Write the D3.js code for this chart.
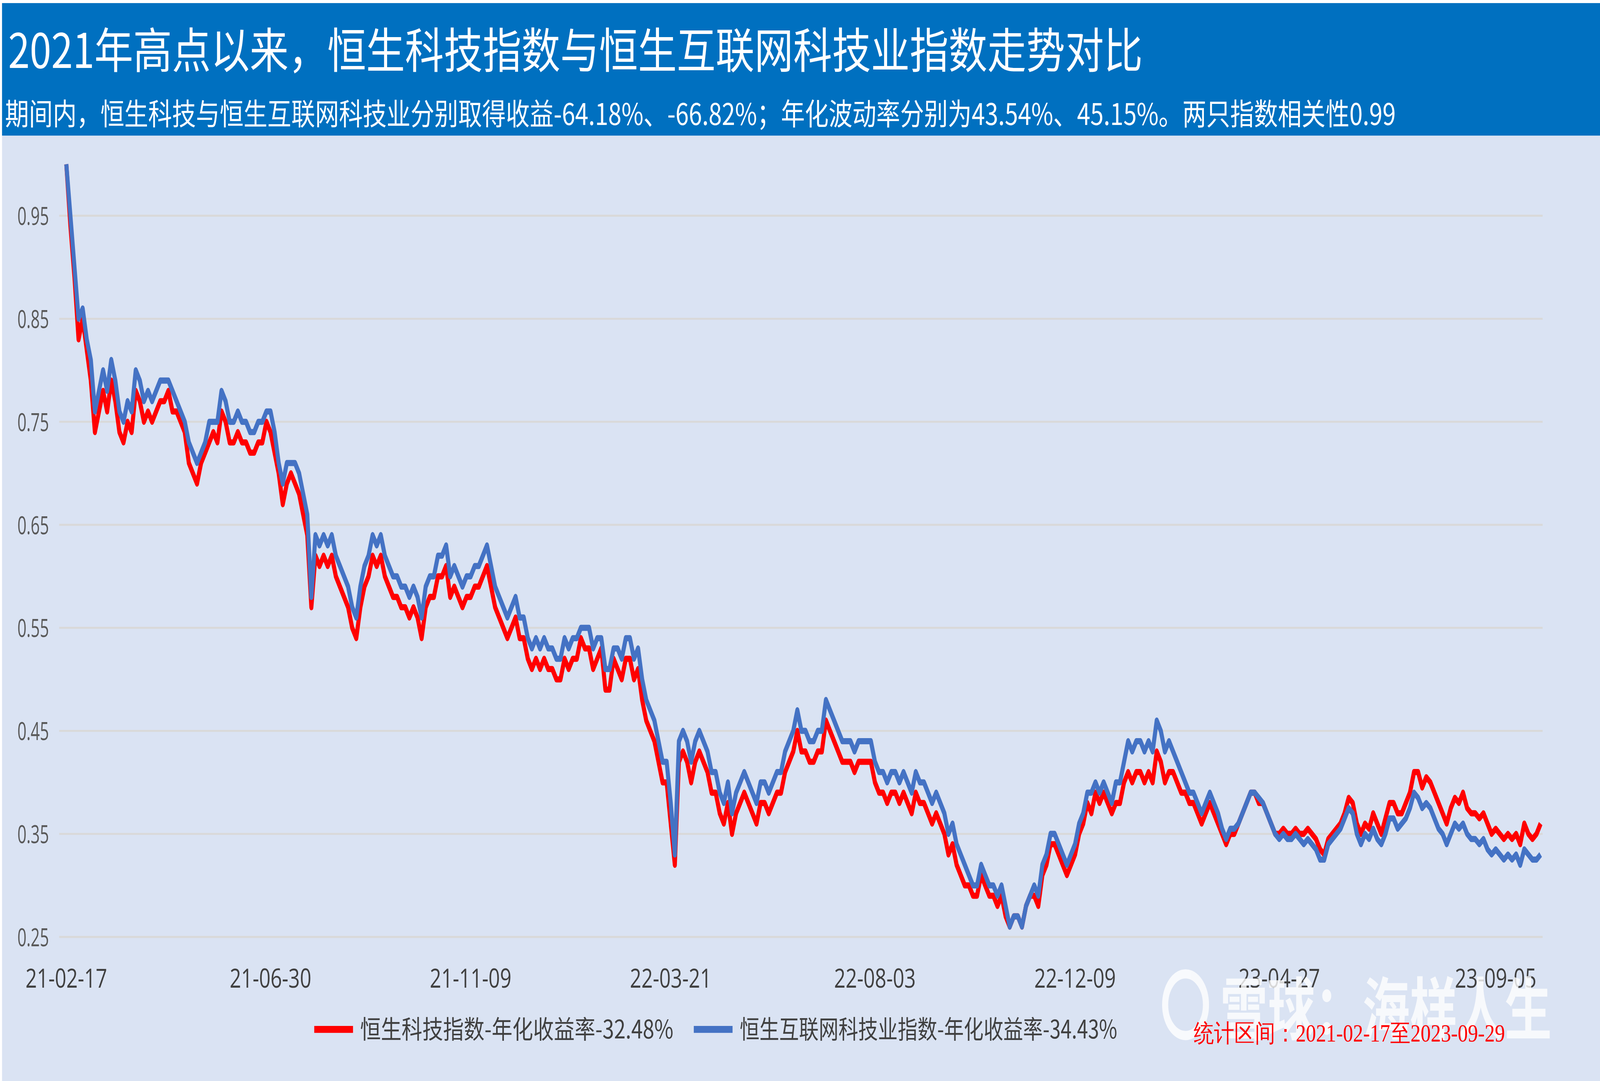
<!DOCTYPE html>
<html><head><meta charset="utf-8">
<script src="https://cdn.jsdelivr.net/npm/d3@7"></script>
<style>html,body{margin:0;padding:0;background:#fff;overflow:hidden;}svg{display:block;width:100vw;height:100vh;}</style>
</head><body>
<script>
const title = "2021年高点以来，恒生科技指数与恒生互联网科技业指数走势对比";
const subtitle = "期间内，恒生科技与恒生互联网科技业分别取得收益-64.18%、-66.82%；年化波动率分别为43.54%、45.15%。两只指数相关性0.99";
const seriesNames = ["恒生科技指数-年化收益率-32.48%", "恒生互联网科技业指数-年化收益率-34.43%"];
const yTicks = [0.25,0.35,0.45,0.55,0.65,0.75,0.85,0.95];
const xTickLabels = ["21-02-17","21-06-30","21-11-09","22-03-21","22-08-03","22-12-09","23-04-27","23-09-05"];
const xTickIdx = [0,50,99,148,198,247,297,350];
const hstech = [1.00,0.94,0.89,0.83,0.85,0.82,0.79,0.74,0.76,0.78,0.76,0.79,0.77,0.74,0.73,0.75,0.74,0.78,0.77,0.75,0.76,
0.75,0.76,0.77,0.77,0.78,0.76,0.76,0.75,0.74,0.71,0.70,0.69,0.71,0.72,0.73,0.74,0.73,0.76,0.75,0.73,0.73,0.74,0.73,0.73,0.72,0.72,0.73,0.73,0.75,0.74,0.72,0.70,0.67,0.69,0.70,0.69,0.68,0.66,0.64,0.57,
0.62,0.61,0.62,0.61,0.62,0.60,0.59,0.58,0.57,0.55,0.54,0.57,0.59,0.60,0.62,0.61,0.62,0.60,0.59,0.58,0.58,0.57,0.57,0.56,0.57,0.56,0.54,0.57,0.58,0.58,0.60,0.60,0.61,0.58,0.59,0.58,0.57,0.58,0.58,0.59,0.59,0.60,0.61,0.59,0.57,0.56,0.55,0.54,0.55,0.56,0.54,0.54,0.52,0.51,0.52,0.51,0.52,0.51,0.51,0.50,0.50,0.52,0.51,0.52,0.52,0.54,0.53,0.53,0.51,0.52,0.53,0.49,0.49,0.52,0.51,0.50,0.52,0.52,0.50,0.51,0.48,0.46,0.45,0.44,0.42,0.40,0.40,0.36,
0.32,0.42,0.43,0.42,0.40,0.42,0.43,0.42,0.41,0.39,0.39,0.37,0.36,0.38,0.35,0.37,0.38,0.39,0.38,0.37,0.36,0.38,0.38,0.37,0.38,0.39,0.39,0.41,0.42,0.43,0.45,0.43,0.43,0.42,0.42,0.43,0.43,0.46,0.45,0.44,0.43,0.42,0.42,0.42,0.41,0.42,0.42,0.42,0.42,0.40,0.39,0.39,0.38,0.39,0.39,0.38,0.39,0.38,0.37,0.39,0.38,0.38,0.37,0.36,0.37,0.36,0.35,0.33,0.34,0.32,0.31,0.30,0.30,0.29,0.29,0.31,0.30,0.29,0.29,0.28,0.29,0.27,0.26,0.27,0.27,0.26,
0.28,0.29,0.29,0.28,0.31,0.32,0.34,0.34,0.33,0.32,0.31,0.32,0.33,0.35,0.36,0.38,0.37,0.39,0.38,0.39,0.38,0.37,0.38,0.38,0.40,0.41,0.40,0.41,0.41,0.40,0.41,0.40,0.43,0.42,0.40,0.41,0.41,0.40,0.39,0.39,0.38,0.38,0.37,0.36,0.37,0.38,0.37,0.36,0.35,0.34,0.35,0.35,0.36,0.37,0.38,0.39,0.39,0.38,0.38,0.37,
0.36,0.35,0.35,0.355,0.35,0.35,0.355,0.35,0.35,0.355,0.35,0.345,0.335,0.33,0.345,0.35,0.355,0.36,0.37,0.385,0.38,0.36,0.35,0.36,0.355,0.37,0.36,0.35,0.365,0.38,0.38,0.37,0.37,0.38,0.39,0.41,0.41,0.395,0.405,0.40,0.39,0.38,0.37,0.36,0.375,0.385,0.38,0.39,0.375,0.37,0.37,0.365,0.37,0.36,0.35,0.355,0.35,0.345,0.35,0.345,0.35,0.34,0.36,0.35,0.345,0.35,0.36];
const hsiii = [1.00,0.95,0.90,0.85,0.86,0.83,0.81,0.76,0.78,0.80,0.78,0.81,0.79,0.76,0.75,0.77,0.76,0.80,0.79,0.77,0.78,
0.77,0.78,0.79,0.79,0.79,0.78,0.77,0.76,0.75,0.73,0.72,0.71,0.72,0.73,0.75,0.75,0.75,0.78,0.77,0.75,0.75,0.76,0.75,0.75,0.74,0.74,0.75,0.75,0.76,0.76,0.74,0.71,0.69,0.71,0.71,0.71,0.70,0.68,0.66,0.58,
0.64,0.63,0.64,0.63,0.64,0.62,0.61,0.60,0.59,0.57,0.56,0.59,0.61,0.62,0.64,0.63,0.64,0.62,0.61,0.60,0.60,0.59,0.59,0.58,0.59,0.58,0.56,0.59,0.60,0.60,0.62,0.62,0.63,0.60,0.61,0.60,0.59,0.60,0.60,0.61,0.61,0.62,0.63,0.61,0.59,0.58,0.57,0.56,0.57,0.58,0.56,0.56,0.54,0.53,0.54,0.53,0.54,0.53,0.53,0.52,0.52,0.54,0.53,0.54,0.54,0.55,0.55,0.55,0.53,0.54,0.54,0.51,0.51,0.53,0.53,0.52,0.54,0.54,0.52,0.53,0.50,0.48,0.47,0.46,0.44,0.42,0.42,0.38,
0.33,0.44,0.45,0.44,0.42,0.44,0.45,0.44,0.43,0.41,0.41,0.39,0.38,0.40,0.37,0.39,0.40,0.41,0.40,0.39,0.38,0.40,0.40,0.39,0.40,0.41,0.41,0.43,0.44,0.45,0.47,0.45,0.45,0.44,0.44,0.45,0.45,0.48,0.47,0.46,0.45,0.44,0.44,0.44,0.43,0.44,0.44,0.44,0.44,0.42,0.41,0.41,0.40,0.41,0.41,0.40,0.41,0.40,0.39,0.41,0.40,0.40,0.39,0.38,0.39,0.38,0.37,0.35,0.36,0.34,0.33,0.32,0.31,0.30,0.30,0.32,0.31,0.30,0.30,0.29,0.30,0.28,0.26,0.27,0.27,0.26,
0.28,0.29,0.30,0.29,0.32,0.33,0.35,0.35,0.34,0.33,0.32,0.33,0.34,0.36,0.37,0.39,0.39,0.40,0.39,0.40,0.39,0.38,0.40,0.40,0.42,0.44,0.43,0.44,0.44,0.43,0.44,0.43,0.46,0.45,0.43,0.44,0.43,0.42,0.41,0.40,0.39,0.39,0.38,0.37,0.38,0.39,0.38,0.37,0.355,0.345,0.355,0.355,0.36,0.37,0.38,0.39,0.39,0.385,0.38,0.37,
0.36,0.35,0.345,0.35,0.345,0.345,0.35,0.345,0.34,0.345,0.34,0.335,0.325,0.325,0.34,0.345,0.35,0.355,0.365,0.375,0.37,0.35,0.34,0.35,0.345,0.355,0.345,0.34,0.35,0.365,0.365,0.355,0.36,0.365,0.375,0.39,0.385,0.375,0.38,0.375,0.365,0.355,0.35,0.34,0.35,0.36,0.355,0.36,0.35,0.345,0.345,0.34,0.345,0.335,0.33,0.335,0.33,0.325,0.33,0.325,0.33,0.32,0.335,0.33,0.325,0.325,0.33];
const colors = ["#FF0000", "#4472C4"];

const W = 1568.2, H = 701.5;
const svg = d3.select("body").append("svg").attr("viewBox",`0 0 ${W} ${H}`).attr("preserveAspectRatio","none");
svg.append("rect").attr("width",W).attr("height",H).attr("fill","#fff");
svg.append("rect").attr("x",2).attr("y",88).attr("width",W-2).attr("height",H-88).attr("fill","#DAE3F3");
svg.append("rect").attr("x",2).attr("y",2).attr("width",W-2).attr("height",86).attr("fill","#0070C0");
const font = "'Microsoft YaHei','Noto Sans CJK SC',sans-serif";
const txt = (sel, len) => sel.attr("textLength", len).attr("lengthAdjust","spacingAndGlyphs");
txt(svg.append("text").attr("x",8).attr("y",44).attr("fill","#fff").attr("font-family",font).attr("font-size",31).text(title), 1112);
txt(svg.append("text").attr("x",5).attr("y",81).attr("fill","#fff").attr("font-family",font).attr("font-size",19.5).text(subtitle), 1363);

const n = hstech.length;
const x = d3.scaleLinear().domain([0,n-1]).range([65,1510]);
const y = d3.scaleLinear().domain([0.25,0.95]).range([608,140]);
const g = svg.append("g");
g.selectAll("line.grid").data(yTicks).join("line").attr("x1",58).attr("x2",1512)
  .attr("y1",d=>y(d)).attr("y2",d=>y(d)).attr("stroke","#D9D9D9").attr("stroke-width",1.3);
g.selectAll("text.yt").data(yTicks).join("text").attr("x",48).attr("y",d=>y(d)+6).attr("text-anchor","end")
  .attr("fill","#595959").attr("font-family","'Open Sans',sans-serif").attr("font-size",16)
  .attr("textLength",31).attr("lengthAdjust","spacingAndGlyphs").text(d=>d.toFixed(2));
g.selectAll("text.xt").data(xTickIdx).join("text").attr("x",d=>x(d)).attr("y",641).attr("text-anchor","middle")
  .attr("fill","#404040").attr("font-family","'Open Sans',sans-serif").attr("font-size",17)
  .attr("textLength",80).attr("lengthAdjust","spacingAndGlyphs").text((d,i)=>xTickLabels[i]);

const line = d3.line().x((d,i)=>x(i)).y(d=>y(d));
[hstech, hsiii].forEach((s,k)=>{
  g.append("path").datum(s).attr("d",line).attr("fill","none").attr("stroke",colors[k]).attr("stroke-width",4).attr("stroke-linejoin","round");
});

const leg = [[308,353],[680,725]];
seriesNames.forEach((nm,k)=>{
  svg.append("line").attr("x1",leg[k][0]).attr("x2",leg[k][0]+38).attr("y1",668).attr("y2",668).attr("stroke",colors[k]).attr("stroke-width",4.5);
  txt(svg.append("text").attr("x",leg[k][1]).attr("y",674).attr("fill","#404040").attr("font-family",font).attr("font-size",16.5).text(nm), k===0?307:370);
});

const wm = svg.append("g").attr("opacity",0.8);
wm.append("circle").attr("cx",1162).attr("cy",652).attr("r",20).attr("fill","none").attr("stroke","#fff").attr("stroke-width",6);
txt(wm.append("text").attr("x",1196).attr("y",671).attr("fill","#fff").attr("font-family",font).attr("font-weight","bold").attr("font-size",44).text("雪球：海样人生"), 325);
txt(svg.append("text").attr("x",1170).attr("y",676).attr("fill","#FF0000").attr("font-family","'Liberation Serif',serif").attr("font-size",16).text("统计区间：2021-02-17至2023-09-29"), 305);
</script>
</body></html>
